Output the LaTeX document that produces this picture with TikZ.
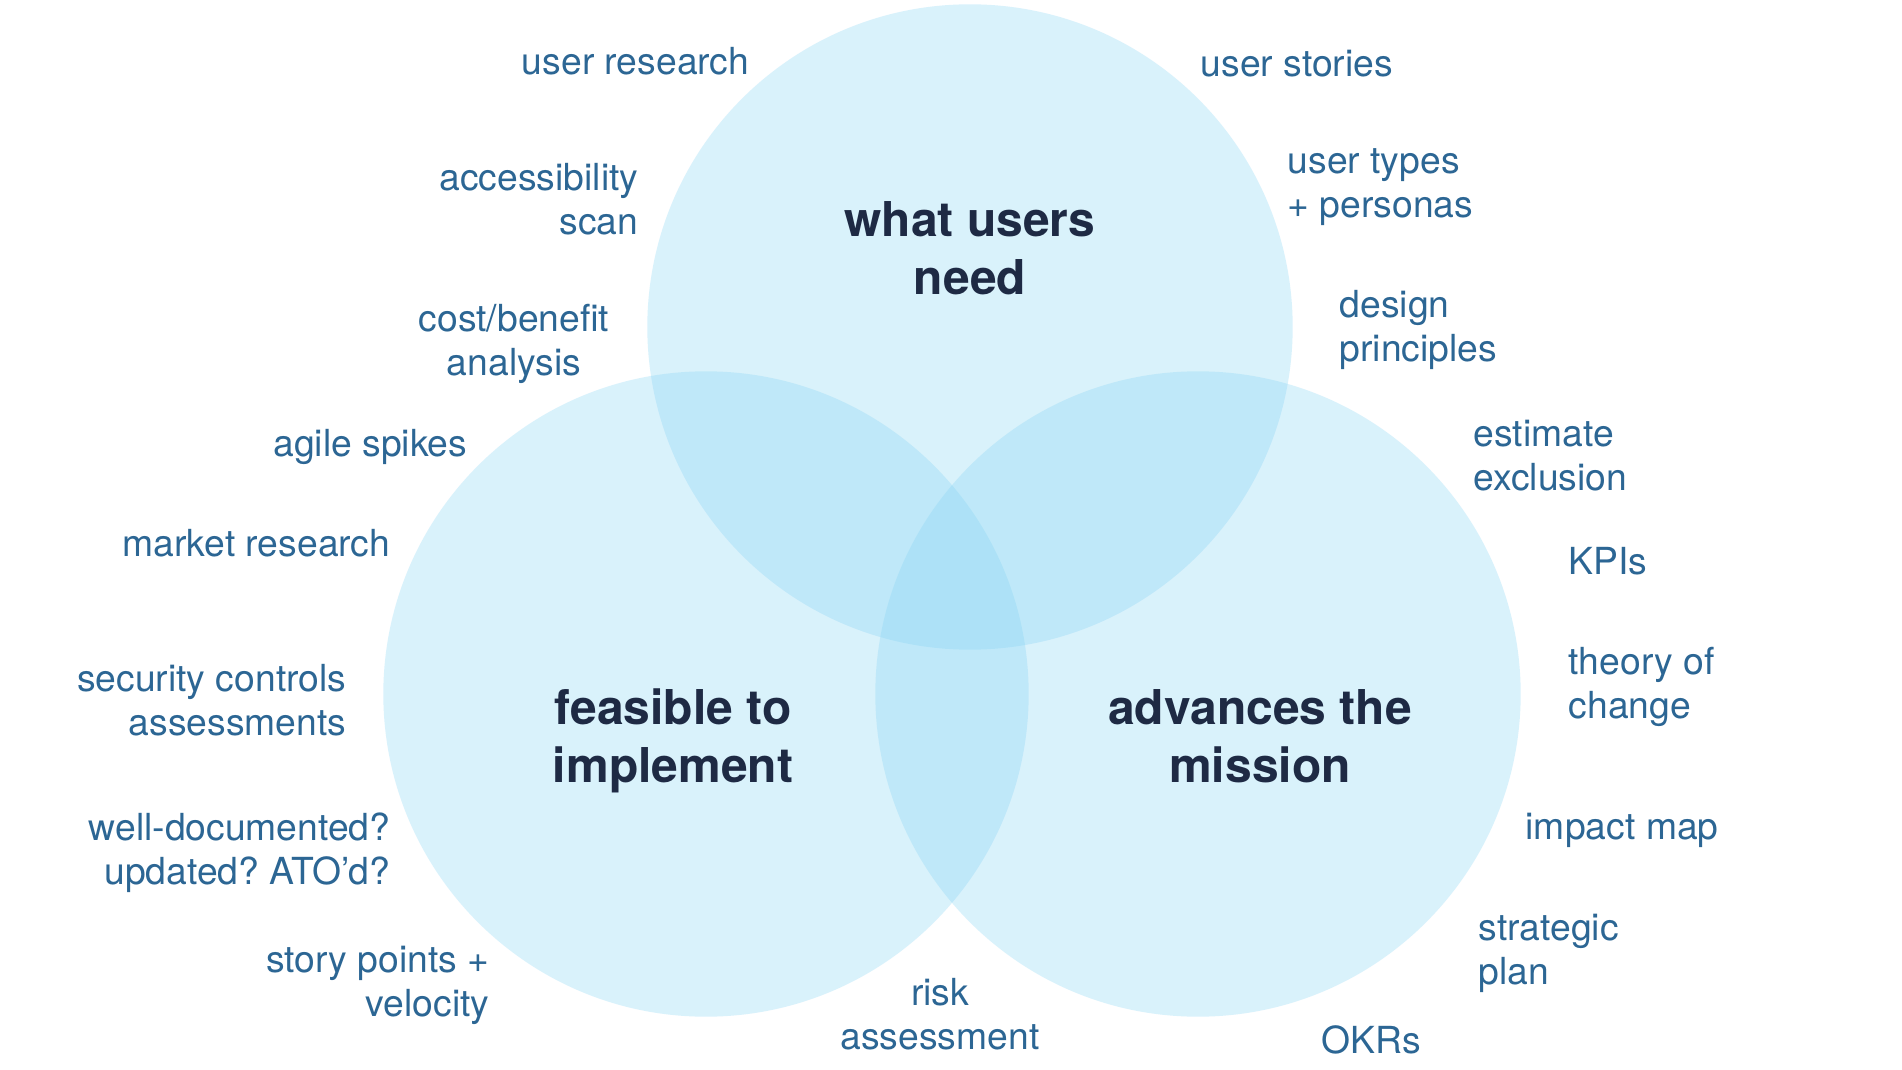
\documentclass[tikz,border=0pt]{standalone}
\usepackage{fontspec}
\setmainfont{TeX Gyre Heros}
\frenchspacing
\definecolor{vennfill}{RGB}{132,212,245}
\definecolor{labelblue}{RGB}{44,102,148}
\definecolor{titledark}{RGB}{30,42,68}
\begin{document}
\begin{tikzpicture}[x=0.01cm,y=-0.01cm,
  venn/.style={fill=vennfill,fill opacity=0.3},
  lbl/.style={inner sep=0pt,text=labelblue,font=\fontsize{10.6}{12.4}\selectfont},
  lblw/.style={lbl,anchor=west,align=left},
  lble/.style={lbl,anchor=east,align=right},
  lblc/.style={lbl,anchor=center,align=center},
  ttl/.style={inner sep=0pt,text=titledark,align=center,font=\bfseries\fontsize{13.65}{16.5}\selectfont}]
\useasboundingbox (0,0) rectangle (1902,1070);
\fill[white] (0,0) rectangle (1902,1070);
% circles
\coordinate (cTop) at (970,327);
\coordinate (cLeft) at (706,694);
\coordinate (cRight) at (1198,694);
\fill[venn] (cTop) circle[radius=3.225cm];
\fill[venn] (cLeft) circle[radius=3.225cm];
\fill[venn] (cRight) circle[radius=3.225cm];
% titles
\node[ttl] (tNeed) at (970,254) {what users\strut\\need\strut};
\node[ttl] (tFeas) at (673,742) {feasible to\strut\\implement\strut};
\node[ttl] (tMiss) at (1260,742) {advances the\strut\\mission\strut};
% left labels
\node[lble] (userresearch) at (750,66) {user research\strut};
\node[lble] (access) at (639,204) {accessibility\strut\\scan\strut};
\node[lblc] (cost) at (514,345) {cost/benefit\strut\\analysis\strut};
\node[lble] (agile) at (468,448) {agile spikes\strut};
\node[lble] (market) at (391,548) {market research\strut};
\node[lble] (security) at (347,705) {security controls\strut\\assessments\strut};
\node[lble] (welldoc) at (391,854) {well-documented?\strut\\updated? ATO’d?\strut};
\node[lble] (story) at (490,986) {story points +\strut\\velocity\strut};
\node[lblc] (risk) at (940,1019) {risk\strut\\assessment\strut};
% right labels
\node[lblw] (userstories) at (1200,68) {user stories\strut};
\node[lblw] (usertypes) at (1287,187) {user types\strut\\+ personas\strut};
\node[lblw] (design) at (1339,331) {design\strut\\principles\strut};
\node[lblw] (estimate) at (1473,460) {estimate\strut\\exclusion\strut};
\node[lblw] (kpis) at (1568,566) {KPIs\strut};
\node[lblw] (theory) at (1568,688) {theory of\strut\\change\strut};
\node[lblw] (impact) at (1525,831) {impact map\strut};
\node[lblw] (strategic) at (1478,954) {strategic\strut\\plan\strut};
\node[lblw] (okrs) at (1321,1045) {OKRs\strut};
\end{tikzpicture}
\end{document}
